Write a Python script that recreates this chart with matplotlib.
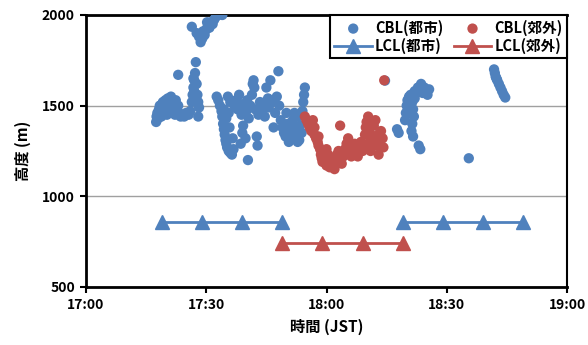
import matplotlib
matplotlib.use("Agg")
import matplotlib.pyplot as plt
from matplotlib.ticker import FixedLocator
import numpy as np

plt.rcParams['font.family'] = ['Noto Sans CJK JP', 'DejaVu Sans']

# time in minutes after 17:00
cbl_urban_t = [
    17.5, 17.6, 17.8, 18.0, 18.2, 18.4, 18.6, 18.8, 19.0, 19.2, 19.4, 19.6, 19.8, 20.0, 20.2, 20.4,
    20.6, 20.8, 21.0, 21.2, 21.4, 21.6, 21.8, 22.0, 22.2, 22.4, 22.6, 23.0, 23.2, 23.6, 24.0, 24.5,
    25.0, 25.6, 23.0,
    26.0, 26.4, 26.6, 26.8, 27.0, 27.2, 27.4, 27.0, 27.6, 27.8, 28.0, 28.2, 28.0, 27.2, 26.8,
    26.4, 27.6, 28.2, 28.6, 29.0, 29.2, 29.6, 30.0, 30.4, 30.8, 31.2, 31.6, 32.0, 32.4, 33.0, 34.0, 28.8, 30.2,
    32.6, 33.0, 33.4, 33.8, 34.0, 34.2, 34.4, 34.6, 34.8, 35.0, 35.2, 35.6, 36.0, 36.4, 36.8, 35.0,
    35.6, 36.0, 35.4, 34.4, 35.8, 36.6,
    37.0, 37.4, 37.8, 38.2, 38.4, 38.8, 39.0, 39.2, 39.6, 40.0, 40.2, 40.4, 40.6, 41.0, 41.4, 41.6,
    41.8, 42.0, 42.2, 42.6, 42.8, 43.0, 43.4, 43.8, 44.2, 44.6, 45.0, 45.4, 45.6, 46.0, 46.4, 46.8,
    47.2, 47.6, 48.0, 48.2, 48.6, 38.6, 39.8,
    49.0, 49.4, 49.8, 50.0, 50.4, 50.8, 51.2, 51.6, 52.0, 52.4, 52.8, 53.0, 53.4, 53.8, 54.0, 54.2,
    54.4, 54.6, 50.6, 52.0, 53.2,
    74.6,
    77.6, 78.0, 79.6, 79.8, 80.0, 80.2, 80.6, 81.0, 81.4, 81.6, 81.8, 81.4, 81.2, 81.6, 82.0, 82.4,
    82.8, 83.2, 83.6, 84.0, 84.4, 84.8, 85.2, 85.6, 83.0, 83.4, 80.4, 82.0,
    95.5,
    101.8, 102.0, 102.2, 102.6, 103.0, 103.4, 103.8, 104.2, 104.6, 102.4,
]
cbl_urban_h = [
    1410, 1440, 1460, 1430, 1480, 1500, 1470, 1440, 1510, 1520, 1490, 1460, 1530, 1500, 1450, 1540,
    1480, 1510, 1460, 1550, 1500, 1470, 1520, 1490, 1450, 1530, 1480, 1500, 1460, 1440, 1450, 1440,
    1460, 1450, 1670,
    1470, 1520, 1560, 1600, 1640, 1680, 1740, 1580, 1620, 1560, 1520, 1490, 1440, 1530, 1650,
    1935, 1900, 1880, 1850, 1870, 1910, 1890, 1920, 1940, 1930, 1960, 1950, 1975, 1990, 2000, 2000, 1900, 1960,
    1550, 1530, 1500, 1470, 1440, 1400, 1370, 1340, 1310, 1290, 1270, 1250, 1240, 1230, 1260, 1430,
    1460, 1520, 1550, 1480, 1380, 1320,
    1500, 1530, 1480, 1560, 1510, 1450, 1350, 1390, 1500, 1470, 1530, 1200, 1430, 1500, 1560, 1620,
    1640, 1600, 1480, 1330, 1280, 1450, 1520, 1470, 1500, 1440, 1600, 1540, 1490, 1640, 1520, 1380,
    1460, 1550, 1690, 1500, 1420, 1290, 1320,
    1380, 1350, 1330, 1460, 1400, 1360, 1330, 1420, 1370, 1340, 1300, 1440, 1390, 1350, 1470, 1520,
    1560, 1600, 1300, 1460, 1310,
    1638,
    1370, 1350, 1420, 1460, 1500, 1530, 1550, 1560, 1520, 1480, 1440, 1400, 1360, 1330, 1580, 1570,
    1600, 1590, 1620, 1570, 1600, 1580, 1560, 1590, 1280, 1260, 1470, 1540,
    1210,
    1700, 1680, 1660, 1640, 1620, 1600, 1580, 1560, 1545, 1650,
]

cbl_suburb_t = [
    54.6, 55.0, 55.4, 55.8, 56.2, 56.6, 57.0, 57.4, 57.8, 58.0, 58.4, 58.6, 58.8, 59.0, 59.4, 59.6,
    59.8, 60.0, 60.4, 60.6, 60.8, 61.2, 61.6, 62.0, 62.2, 62.6, 63.0, 63.4, 63.4, 63.8, 64.2, 64.6,
    65.0, 65.4, 65.8, 66.2, 66.6, 67.0, 67.4, 67.8, 68.2, 68.6, 69.0, 69.4, 69.6, 69.8, 70.0, 70.4,
    70.6, 70.8, 71.0, 71.4, 71.8, 72.2, 72.4, 72.8, 73.0, 73.2, 73.6, 74.0, 74.2, 74.4, 58.0, 57.0, 60.0,
]
cbl_suburb_h = [
    1440, 1420, 1400, 1380, 1360, 1420, 1340, 1320, 1300, 1280, 1260, 1230, 1210, 1190, 1250, 1220,
    1200, 1170, 1230, 1190, 1160, 1210, 1180, 1150, 1200, 1230, 1250, 1390, 1200, 1180, 1220, 1260,
    1290, 1320, 1250, 1220, 1260, 1290, 1240, 1220, 1270, 1300, 1250, 1280, 1340, 1380, 1410, 1440,
    1360, 1300, 1250, 1330, 1390, 1420, 1280, 1340, 1230, 1300, 1360, 1320, 1270, 1640, 1330, 1380, 1260,
]

lcl_urban_t = [19, 29, 39, 49, None, 79, 89, 99, 109]
lcl_urban_h = [860, 860, 860, 860, None, 860, 860, 860, 860]
lcl_suburb_t = [49, 59, 69, 79]
lcl_suburb_h = [740, 740, 740, 740]

x_ticks = [0, 30, 60, 90, 120]
x_labels = ["17:00", "17:30", "18:00", "18:30", "19:00"]
y_ticks = [500, 1000, 1500, 2000]

blue = "#4F81BD"
red = "#C0504D"

fig = plt.figure(figsize=(5.88, 3.45), dpi=100)
ax = fig.add_axes([86/588, 1-287/345, (567-86)/588, (287-15)/345])

ut = np.array([np.nan if v is None else v for v in lcl_urban_t], dtype=float)
uh = np.array([np.nan if v is None else v for v in lcl_urban_h], dtype=float)

s1 = ax.scatter(cbl_urban_t, cbl_urban_h, s=55, color=blue, edgecolors='none', zorder=3, label="CBL(都市)")
s2 = ax.scatter(cbl_suburb_t, cbl_suburb_h, s=55, color=red, edgecolors='none', zorder=4, label="CBL(郊外)")
l1, = ax.plot(ut, uh, color=blue, lw=2, marker='^', markersize=10, zorder=5, label="LCL(都市)")
l2, = ax.plot(lcl_suburb_t, lcl_suburb_h, color=red, lw=2, marker='^', markersize=10, zorder=5, label="LCL(郊外)")

ax.set_xlim(0, 120)
ax.set_ylim(500, 2000)
ax.xaxis.set_major_locator(FixedLocator(x_ticks))
ax.set_xticklabels(x_labels)
ax.yaxis.set_major_locator(FixedLocator(y_ticks))
ax.yaxis.grid(True, color="#A0A0A0", lw=1)
ax.set_axisbelow(True)

for lab in ax.get_xticklabels() + ax.get_yticklabels():
    lab.set_fontweight('bold')
    lab.set_fontsize(10)
ax.tick_params(axis='both', direction='out', length=4, width=1.5, pad=4)

for side in ['left', 'bottom', 'top']:
    ax.spines[side].set_linewidth(2)
ax.spines['right'].set_linewidth(1.5)

ax.set_ylabel("高度 (m)", fontsize=11, fontweight='bold', labelpad=8)
ax.set_xlabel("時間 (JST)", fontsize=11, fontweight='bold', labelpad=5)

leg = ax.legend(handles=[s1, l1, s2, l2], ncol=2, loc='upper right', bbox_to_anchor=(1.0, 1.0),
                borderaxespad=0, frameon=True, fancybox=False, framealpha=1,
                prop={'weight': 'bold', 'size': 10.5}, handlelength=2.6, columnspacing=0.7,
                handletextpad=0.2, borderpad=0.3, labelspacing=0.15, scatterpoints=1)
leg.get_frame().set_edgecolor('black')
leg.get_frame().set_linewidth(1.5)

fig.savefig("out.png", dpi=100)
